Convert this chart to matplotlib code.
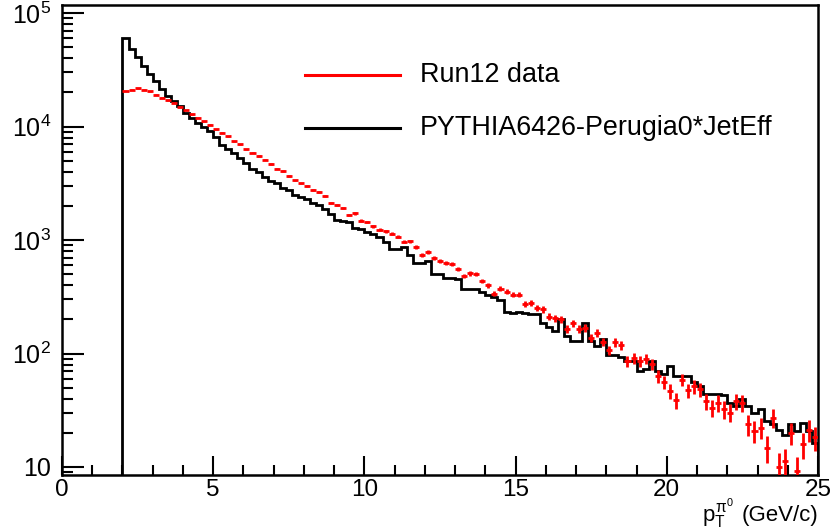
import numpy as np
import matplotlib
matplotlib.use("Agg")
import matplotlib.pyplot as plt
from matplotlib.lines import Line2D
from matplotlib.ticker import MultipleLocator, LogLocator, NullFormatter, FuncFormatter

plt.rcParams['font.family'] = ['Liberation Sans', 'DejaVu Sans']
plt.rcParams['mathtext.fontset'] = 'custom'
plt.rcParams['mathtext.rm'] = 'Liberation Sans'
plt.rcParams['mathtext.it'] = 'Liberation Sans'
plt.rcParams['mathtext.bf'] = 'Liberation Sans:bold'

# ---- data ----
bin_low = 2.0
bin_width = 0.2

mc_counts = [
    60300, 47900, 40700, 33900, 28800, 25100, 21400, 18600, 16800, 15100,
    13200, 12000, 10700, 10000, 9120,
    8130, 6920, 6310, 5890, 5250, 4790, 4270, 3980, 3630, 3310,
    3160, 2880, 2750, 2510, 2400, 2290, 2140, 2040, 1860, 1700,
    1510, 1480, 1445, 1290, 1260,
    1175, 1120, 1070, 955, 832, 832, 871, 741, 631, 631,
    653, 501, 501, 462, 462, 457, 367, 367, 367, 347,
    327, 316, 295, 234, 229,
    234, 229, 221, 221, 186, 170, 158, 200, 143, 129,
    129, 186, 129, 116, 133, 97.7, 97.7, 93.3, 85.1, 86.1,
    70.0, 72.4, 85.1, 70.0, 66.1,
    77.6, 63.1, 63.1, 63.1, 55.6, 51.3, 43.7, 44.2, 43.7, 42.7,
    36.9, 34.7, 39.5, 34.4, 30.2, 32.4, 25.4, 24.0, 21.4, 19.1,
    23.8, 20.8, 24.5, 20.8, 16.4,
]

data_counts = [
    20600, 21100, 21700, 21100, 20400, 19100, 17950, 17000, 16200, 15000,
    14000, 12900, 12000, 11100, 10350,
    9440, 8830, 8220, 7410, 6970, 6310, 5890, 5500, 5130, 4680,
    4270, 4070, 3670, 3360, 3160, 3020, 2770, 2630, 2455, 2140,
    2040, 1905, 1660, 1720, 1480,
    1445, 1320, 1230, 1200, 1135, 1070, 966, 977, 871, 741,
    785, 692, 653, 631, 611, 552, 482, 508, 501, 437,
    398, 337, 372, 351, 331,
    331, 272, 281, 251, 245, 211, 204, 200, 166, 185,
    166, 168, 138, 151, 127, 107, 126, 119, 85.1, 91.2,
    85.1, 90.2, 81.3, 63.1, 56.2,
    46.8, 38.9, 58.9, 47.3, 51.3, 48.4, 38.0, 33.1, 36.9, 32.4,
    30.2, 38.0, 36.9, 23.8, 20.8, 22.2, 14.8, 27.2, 10.0, 11.2,
    20.0, 9.2, 15.8, 21.4, 18.2,
]

legend_labels = ["Run12 data", "PYTHIA6426-Perugia0*JetEff"]
x_label_sym = r"$p_{T}^{\pi^{0}}$"
x_label_unit = "(GeV/c)"

mc = np.array(mc_counts, dtype=float)
dat = np.array(data_counts, dtype=float)
nb = len(mc)
edges = bin_low + bin_width * np.arange(nb + 1)
centers = 0.5 * (edges[:-1] + edges[1:])

# ---- figure ----
W, H = 840, 529
fig = plt.figure(figsize=(W / 100, H / 100), dpi=100)
L, R, T, B = 62, 818, 5, 475
ax = fig.add_axes([L / W, 1 - B / H, (R - L) / W, (B - T) / H])

ax.stairs(mc, edges, baseline=1e-3, color='black', lw=2.0, zorder=2)
ax.errorbar(centers, dat, xerr=bin_width / 2, yerr=np.sqrt(dat), fmt='none',
            ecolor='#ff0000', elinewidth=2.0, capsize=0, zorder=3)

ax.set_yscale('log')
ax.set_xlim(0, 25)
ax.set_ylim(8.5, 1.18e5)

ax.xaxis.set_major_locator(MultipleLocator(5))
ax.xaxis.set_minor_locator(MultipleLocator(1))
ax.yaxis.set_major_locator(LogLocator(base=10, numticks=10))
ax.yaxis.set_minor_locator(LogLocator(base=10, subs=np.arange(2, 10), numticks=20))
ax.yaxis.set_minor_formatter(NullFormatter())


def yfmt(v, p):
    e = int(round(np.log10(v)))
    if e == 1:
        return '10'
    return r'$\mathregular{10^{%d}}$' % e


ax.yaxis.set_major_formatter(FuncFormatter(yfmt))

ax.tick_params(axis='x', which='major', direction='in', length=14, width=1.5,
               labelsize=17.5, pad=3, top=False)
ax.tick_params(axis='x', which='minor', direction='in', length=7, width=1.5, top=False)
ax.tick_params(axis='y', which='major', direction='in', length=16, width=1.5,
               labelsize=18, pad=8, right=False)
ax.tick_params(axis='y', which='minor', direction='in', length=8, width=1.5, right=False)
for s in ax.spines.values():
    s.set_linewidth(1.8)

# legend (ROOT style, no frame)
rows = [(75, '#ff0000', legend_labels[0]), (128, 'black', legend_labels[1])]
for yy, col, lab in rows:
    fig.add_artist(Line2D([305 / W, 400 / W], [1 - yy / H] * 2, color=col, lw=2.2,
                          transform=fig.transFigure))
    fig.text(420 / W, 1 - yy / H, lab, fontsize=19.4, va='center', ha='left')

# axis title: symbol + unit as two pieces
unit_txt = fig.text(R / W, 1 - 521 / H, x_label_unit, fontsize=16, ha='right', va='baseline')
renderer = fig.canvas.get_renderer()
uw = unit_txt.get_window_extent(renderer=renderer).width
fig.text((R - uw - 7) / W, 1 - 521 / H, x_label_sym, fontsize=16, ha='right', va='baseline')

fig.savefig('out.png', dpi=100)
